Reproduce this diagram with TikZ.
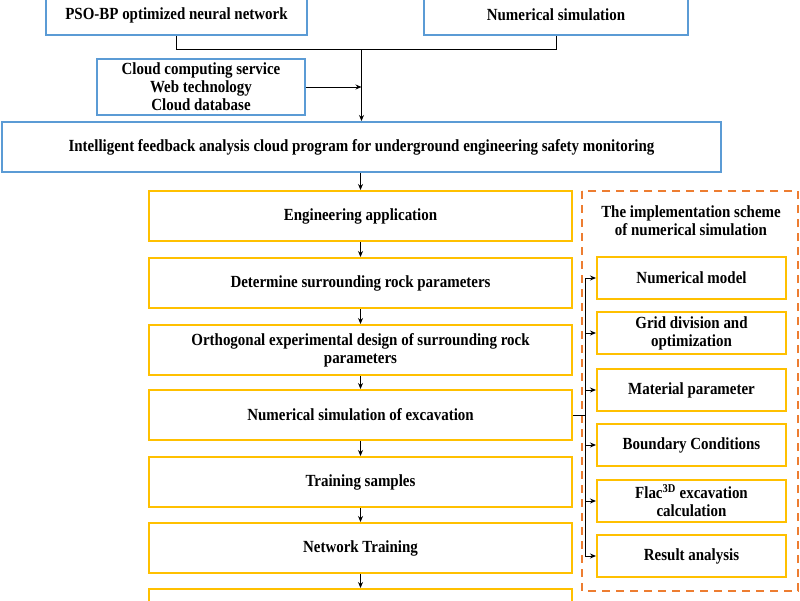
\documentclass[tikz,border=0pt]{standalone}
\usepackage{fontspec}
\setmainfont{Liberation Serif}[FakeStretch=0.88]
\usetikzlibrary{arrows.meta}
\definecolor{bluebox}{HTML}{5B9BD5}
\definecolor{yellowbox}{HTML}{FFC000}
\definecolor{orangedash}{HTML}{ED7D31}
\tikzset{
  txt/.style={font=\fontsize{17}{18}\selectfont\bfseries, align=center, inner sep=0pt},
  bluenode/.style={txt, draw=bluebox, line width=2pt},
  yellownode/.style={txt, draw=yellowbox, line width=2pt, minimum width=423pt, minimum height=50pt},
  subnode/.style={txt, draw=yellowbox, line width=2pt, minimum width=189pt, minimum height=42pt},
  conn/.style={draw=black, line width=1pt},
  arr/.style={conn, -{Stealth[length=6pt,width=5pt]}},
}
\begin{document}
\begin{tikzpicture}[x=1pt,y=-1pt]
\useasboundingbox (0,0) rectangle (800,600);
\clip (0,0) rectangle (800,600);
\fill[white] (0,0) rectangle (800,600);

% top blue boxes
\node[bluenode, minimum width=261pt, minimum height=40pt] (pso) at (176.5,15) {PSO-BP optimized neural network};
\node[bluenode, minimum width=264pt, minimum height=40pt] (num) at (556,15) {Numerical simulation};
\node[bluenode, minimum width=208pt, minimum height=56pt] (cloud) at (201,87) {Cloud computing service\\Web technology\\Cloud database};
\node[bluenode, minimum width=719pt, minimum height=50pt] (intel) at (361.5,147) {Intelligent feedback analysis cloud program for underground engineering safety monitoring};

\coordinate (j) at (361.5,49);
\draw[conn] (pso.south) -- (pso.south|-j) -- (num.south|-j) -- (num.south);
\draw[arr] (j) -- (intel.north);
\draw[arr] (cloud.east) -- (cloud.east-|j);

% yellow main column
\node[yellownode] (eng) at (360.5,216) {Engineering application};
\node[yellownode] (det) at (360.5,283) {Determine surrounding rock parameters};
\node[yellownode] (orth) at (360.5,350) {Orthogonal experimental design of surrounding rock\\parameters};
\node[yellownode] (nse) at (360.5,415) {Numerical simulation of excavation};
\node[yellownode] (ts) at (360.5,482) {Training samples};
\node[yellownode] (nt) at (360.5,548) {Network Training};
\node[yellownode] (last) at (360.5,614) {};

\draw[arr] (intel.south-|eng.north) -- (eng.north);
\draw[arr] (eng) -- (det);
\draw[arr] (det) -- (orth);
\draw[arr] (orth) -- (nse);
\draw[arr] (nse) -- (ts);
\draw[arr] (ts) -- (nt);
\draw[arr] (nt) -- (last);

% dashed implementation scheme
\draw[orangedash, line width=2pt, dash pattern=on 8pt off 6pt] (582,191) rectangle (798,591);
\node[txt] (title) at (691,221) {The implementation scheme\\of numerical simulation};

\node[subnode] (s1) at (691.5,278) {Numerical model};
\node[subnode] (s2) at (691.5,333) {Grid division and\\optimization};
\node[subnode] (s3) at (691.5,390) {Material parameter};
\node[subnode] (s4) at (691.5,445) {Boundary Conditions};
\node[subnode] (s5) at (691.5,501) {Flac\textsuperscript{3D} excavation\\calculation};
\node[subnode] (s6) at (691.5,556) {Result analysis};

\coordinate (bus) at (585,415);
\draw[conn] (nse.east) -- (bus);
\draw[conn] (bus|-s1.west) -- (bus|-s6.west);
\foreach \s in {s1,s2,s3,s4,s5,s6}{
  \draw[arr] (bus|-\s.west) -- (\s.west);
}
\end{tikzpicture}
\end{document}
